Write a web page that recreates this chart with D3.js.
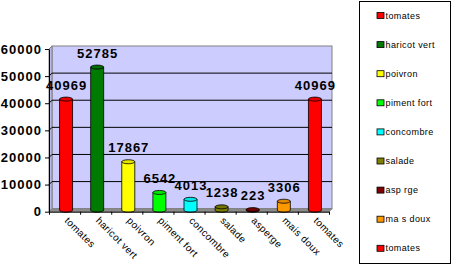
<!DOCTYPE html>
<html>
<head>
<meta charset="utf-8">
<script src="https://cdn.jsdelivr.net/npm/d3@7"></script>
<style>
  body { margin: 0; background: #fff; }
  text { font-family: "Liberation Sans", Arial, sans-serif; }
</style>
</head>
<body>
<div id="chart"></div>
<script>
// data
var categories = ["tomates", "haricot vert", "poivron", "piment fort", "concombre", "salade", "asperge", "mais doux", "tomates"];
var legendLabels = ["tomates", "haricot vert", "poivron", "piment fort", "concombre", "salade", "asp  rge", "ma s doux", "tomates"];
var values = [40969, 52785, 17867, 6542, 4013, 1238, 223, 3306, 40969];
var colors = ["#ff0000", "#007a00", "#ffff00", "#00ff00", "#00ffff", "#808000", "#800000", "#ff9900", "#ff0000"];
var yTicks = [0, 10000, 20000, 30000, 40000, 50000, 60000];

var svgWidth = 452;
var svgHeight = 265;

// front plane of the plot, plus the depth of the 3d effect
var plot = { left: 49, right: 329, top: 49, bottom: 211.7 };
var depth = { dx: 3, dy: -3 };

var svg = d3.select("#chart")
  .append("svg")
  .attr("width", svgWidth)
  .attr("height", svgHeight);

var xBand = d3.scaleBand()
  .domain(d3.range(categories.length))
  .range([plot.left, plot.right])
  .padding(0);

var xIndex = d3.scaleLinear()
  .domain([0, categories.length])
  .range([plot.left, plot.right]);

var yScale = d3.scaleLinear()
  .domain([0, 60000])
  .range([plot.bottom, plot.top]);

// back wall
svg.append("rect")
  .attr("x", plot.left + depth.dx)
  .attr("y", plot.top + depth.dy)
  .attr("width", plot.right - plot.left)
  .attr("height", plot.bottom - plot.top)
  .attr("fill", "#ccccff")
  .attr("stroke", "#808080");

// left side wall
svg.append("path")
  .attr("d", d3.line()([
    [plot.left, plot.top],
    [plot.left + depth.dx, plot.top + depth.dy],
    [plot.left + depth.dx, plot.bottom + depth.dy],
    [plot.left, plot.bottom]
  ]) + "Z")
  .attr("fill", "#b8b8e6")
  .attr("stroke", "#808080");

// gridlines on the back wall and side wall
svg.selectAll(".grid")
  .data(yTicks.filter(d => d > 0 && d < 60000))
  .enter()
  .append("path")
  .attr("class", "grid")
  .attr("d", d => d3.line()([
    [plot.left, yScale(d)],
    [plot.left + depth.dx, yScale(d) + depth.dy],
    [plot.right + depth.dx, yScale(d) + depth.dy]
  ]))
  .attr("fill", "none")
  .attr("stroke", "#000")
  .attr("stroke-width", 1);

// floor
svg.append("path")
  .attr("d", d3.line()([
    [plot.left, plot.bottom],
    [plot.left + depth.dx, plot.bottom + depth.dy],
    [plot.right + depth.dx, plot.bottom + depth.dy],
    [plot.right, plot.bottom]
  ]) + "Z")
  .attr("fill", "#8c8c8c")
  .attr("stroke", "#808080");

// cylinders
var barW = 13;
var ry = 2;
var mid = { dx: depth.dx / 2, dy: depth.dy / 2 };

var bars = svg.selectAll(".bar")
  .data(values)
  .enter()
  .append("g")
  .attr("class", "bar");

bars.append("path")
  .attr("d", function(d, i) {
    var cx = xBand(i) + xBand.bandwidth() / 2 + mid.dx;
    var top = yScale(d) + mid.dy;
    var bot = yScale(0) + mid.dy;
    var l = cx - barW / 2, r = cx + barW / 2;
    return "M" + l + "," + top +
      "L" + l + "," + bot +
      "A" + (barW / 2) + "," + ry + " 0 0 0 " + r + "," + bot +
      "L" + r + "," + top + "Z";
  })
  .attr("fill", (d, i) => colors[i])
  .attr("stroke", "#000")
  .attr("stroke-width", 0.8);

bars.append("ellipse")
  .attr("cx", (d, i) => xBand(i) + xBand.bandwidth() / 2 + mid.dx)
  .attr("cy", d => yScale(d) + mid.dy)
  .attr("rx", barW / 2)
  .attr("ry", ry)
  .attr("fill", (d, i) => d3.color(colors[i]).darker(0.3))
  .attr("stroke", "#000")
  .attr("stroke-width", 0.8);

// value labels
svg.selectAll(".value")
  .data(values)
  .enter()
  .append("text")
  .attr("class", "value")
  .attr("x", (d, i) => xBand(i) + xBand.bandwidth() / 2 + mid.dx + 0.5)
  .attr("y", d => yScale(d) - 11)
  .attr("text-anchor", "middle")
  .attr("font-size", "13px")
  .attr("font-weight", "bold")
  .attr("letter-spacing", "1px")
  .text(d => d);

// y axis
var leftAxis = d3.axisLeft(yScale)
  .tickValues(yTicks)
  .tickSize(4)
  .tickSizeOuter(0)
  .tickPadding(3)
  .tickFormat(d3.format("d"));

var yAxis = svg.append("g")
  .attr("transform", `translate(${plot.left}, 0)`)
  .call(leftAxis);

yAxis.selectAll("text")
  .attr("font-size", "13px")
  .attr("font-weight", "bold")
  .attr("letter-spacing", "1px")
  .attr("fill", "#000")
  .attr("font-family", "'Liberation Sans', Arial, sans-serif");
yAxis.selectAll("line, path").attr("stroke", "#000");

// x axis
var bottomAxis = d3.axisBottom(xIndex)
  .tickValues(d3.range(categories.length + 1))
  .tickSize(3)
  .tickSizeOuter(0)
  .tickFormat("");

svg.append("g")
  .attr("transform", `translate(0, ${plot.bottom})`)
  .call(bottomAxis)
  .selectAll("line, path").attr("stroke", "#000");

svg.selectAll(".xlabel")
  .data(categories)
  .enter()
  .append("text")
  .attr("class", "xlabel")
  .attr("transform", (d, i) => `translate(${xBand(i) + xBand.bandwidth() / 2 + 2}, ${plot.bottom + 7}) rotate(45)`)
  .attr("font-size", "10px")
  .attr("letter-spacing", "0.4px")
  .attr("dy", "0.35em")
  .text(d => d);

// legend
var legend = { x: 359.5, y: 1.5, w: 91, h: 262, step: 29.1 };

svg.append("rect")
  .attr("x", legend.x)
  .attr("y", legend.y)
  .attr("width", legend.w)
  .attr("height", legend.h)
  .attr("fill", "#fff")
  .attr("stroke", "#000");

var items = svg.selectAll(".legend-item")
  .data(legendLabels)
  .enter()
  .append("g")
  .attr("class", "legend-item")
  .attr("transform", (d, i) => `translate(${legend.x + 17.5}, ${legend.y + 11 + i * legend.step})`);

items.append("rect")
  .attr("width", 7)
  .attr("height", 6)
  .attr("fill", (d, i) => colors[i])
  .attr("stroke", "#000")
  .attr("stroke-width", 0.8);

items.append("text")
  .attr("x", 8.5)
  .attr("y", 3)
  .attr("dy", "0.35em")
  .attr("font-size", "9px")
  .attr("letter-spacing", "0.4px")
  .text(d => d);
</script>
</body>
</html>
